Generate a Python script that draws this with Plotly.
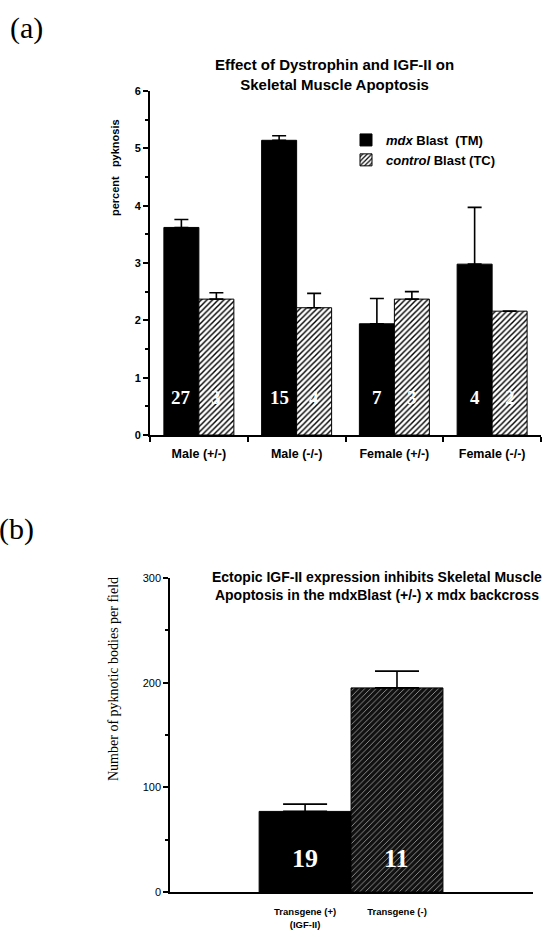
import plotly.graph_objects as go

# ---------------- data ----------------
groups = ["Male (+/-)", "Male (-/-)", "Female (+/-)", "Female (-/-)"]
mdx_vals = [3.62, 5.14, 1.94, 2.98]
mdx_err = [0.14, 0.08, 0.44, 0.99]
ctrl_vals = [2.37, 2.22, 2.37, 2.16]
ctrl_err = [0.11, 0.25, 0.13, None]
mdx_n = ["27", "15", "7", "4"]
ctrl_n = ["3", "4", "3", "2"]

tg_labels = ["Transgene (+)<br>(IGF-II)", "Transgene (-)"]
tg_vals = [77, 195]
tg_err = [7, 16]
tg_n = ["19", "11"]

W, H = 543, 937
SANS = "Liberation Sans, Arial, Helvetica, sans-serif"
SERIF = "Liberation Serif, Times New Roman, serif"
BARGAP = 0.284


def px_x(p):
    return p / W


def px_y(p):
    return 1 - p / H


fig = go.Figure()

# ---------- panel (a) ----------
fig.add_trace(go.Bar(
    x=groups, y=mdx_vals, name="<i>mdx</i> Blast&nbsp;&nbsp;(TM)",
    marker=dict(color="black", line=dict(color="black", width=1)),
    error_y=dict(type="data", symmetric=False, array=mdx_err,
                 arrayminus=[0] * len(mdx_err), color="black",
                 thickness=1.6, width=7),
    xaxis="x", yaxis="y",
))
fig.add_trace(go.Bar(
    x=groups, y=ctrl_vals, name="<i>control</i> Blast (TC)",
    marker=dict(color="white", line=dict(color="black", width=1),
                pattern=dict(shape="/", fgcolor="black", bgcolor="white",
                             size=4, solidity=0.36)),
    error_y=dict(type="data", symmetric=False, array=ctrl_err,
                 arrayminus=[0] * len(ctrl_err), color="black",
                 thickness=1.6, width=7),
    xaxis="x", yaxis="y",
))

# ---------- panel (b) ----------
fig.add_trace(go.Bar(
    x=[tg_labels[0]], y=[tg_vals[0]], width=1, offset=-0.5, showlegend=False,
    marker=dict(color="black", line=dict(color="black", width=1)),
    error_y=dict(type="data", symmetric=False, array=[tg_err[0]],
                 arrayminus=[0], color="black", thickness=1.6, width=22),
    xaxis="x2", yaxis="y2",
))
fig.add_trace(go.Bar(
    x=[tg_labels[1]], y=[tg_vals[1]], width=1, offset=-0.5, showlegend=False,
    marker=dict(color="#111111", line=dict(color="black", width=1),
                pattern=dict(shape="/", fgcolor="#a8a8a8", bgcolor="#111111",
                             size=4, solidity=0.2)),
    error_y=dict(type="data", symmetric=False, array=[tg_err[1]],
                 arrayminus=[0], color="black", thickness=1.6, width=22),
    xaxis="x2", yaxis="y2",
))

annotations = []
half = (1 - BARGAP) / 4
for i in range(len(groups)):
    annotations.append(dict(x=i - half, y=0.65, xref="x", yref="y", text=mdx_n[i],
                            showarrow=False, xanchor="center", yanchor="middle",
                            font=dict(family=SERIF, size=19, color="white", weight="bold")))
    annotations.append(dict(x=i + half, y=0.65, xref="x", yref="y", text=ctrl_n[i],
                            showarrow=False, xanchor="center", yanchor="middle",
                            font=dict(family=SERIF, size=19, color="white", weight="bold")))
for i in range(len(tg_n)):
    annotations.append(dict(x=i, y=32, xref="x2", yref="y2", text=tg_n[i],
                            showarrow=False, xanchor="center", yanchor="middle",
                            font=dict(family=SERIF, size=26, color="white", weight="bold")))


def paper_text(x, y, text, font, angle=0):
    return dict(x=px_x(x), y=px_y(y), xref="paper", yref="paper", text=text,
                showarrow=False, xanchor="center", yanchor="middle",
                textangle=angle, font=font)


annotations += [
    paper_text(26, 28, "(a)", dict(family=SERIF, size=30, color="black")),
    paper_text(16, 529, "(b)", dict(family=SERIF, size=30, color="black")),
    paper_text(334, 74, "Effect of Dystrophin and IGF-II on<br>Skeletal Muscle Apoptosis",
               dict(family=SANS, size=15, color="black", weight="bold")),
    paper_text(115, 167, "percent&nbsp;&nbsp;&nbsp;pyknosis",
               dict(family=SANS, size=11, color="black", weight="bold"), -90),
    paper_text(377, 586,
               "Ectopic IGF-II expression inhibits Skeletal Muscle<br>Apoptosis in the mdxBlast (+/-) x mdx backcross",
               dict(family=SANS, size=14, color="black", weight="bold")),
    paper_text(113, 679, "Number of pyknotic bodies per field",
               dict(family=SERIF, size=14, color="black"), -90),
]

fig.update_layout(
    template="none",
    width=W, height=H, autosize=False,
    margin=dict(l=0, r=0, t=0, b=0, pad=0),
    paper_bgcolor="white", plot_bgcolor="white",
    barmode="group", bargap=BARGAP, bargroupgap=0,
    font=dict(family=SANS, color="black"),
    showlegend=True,
    legend=dict(x=px_x(346), y=px_y(125), xanchor="left", yanchor="top",
                bgcolor="rgba(0,0,0,0)", borderwidth=0,
                font=dict(family=SANS, size=13, weight="bold", color="black"),
                tracegroupgap=0, itemwidth=30),
    xaxis=dict(domain=[px_x(150), px_x(541)], anchor="y", range=[-0.5, 3.5],
               automargin=False,
               showline=True, linecolor="black", linewidth=2, ticks="outside",
               tickson="boundaries", ticklen=5, tickcolor="black", tickwidth=1.5,
               tickfont=dict(family=SANS, size=12.5, weight="bold", color="black"),
               showgrid=False, zeroline=False, ticklabelstandoff=6),
    yaxis=dict(domain=[px_y(435), px_y(91)], anchor="x", range=[0, 6],
               automargin=False,
               showline=True, linecolor="black", linewidth=2, ticks="outside",
               tickvals=[0, 1, 2, 3, 4, 5, 6], ticklen=5, tickcolor="black", tickwidth=1.5,
               tickfont=dict(family=SANS, size=11, weight="bold", color="black"),
               showgrid=False, zeroline=False,
               minor=dict(dtick=0.5, ticks="outside", ticklen=3, tickcolor="black",
                          showgrid=False)),
    xaxis2=dict(domain=[px_x(170), px_x(533)], anchor="y2", range=[-1.47, 2.48],
                automargin=False,
                showline=True, linecolor="black", linewidth=1.5, ticks="",
                tickfont=dict(family=SANS, size=9.5, weight="bold", color="black"),
                showgrid=False, zeroline=False, ticklabelstandoff=10),
    yaxis2=dict(domain=[px_y(892), px_y(578)], anchor="x2", range=[0, 300],
                automargin=False,
                showline=True, linecolor="black", linewidth=1.5, ticks="outside",
                tickvals=[0, 100, 200, 300], ticklen=5, tickcolor="black", tickwidth=1.5,
                tickfont=dict(family=SANS, size=11, color="black"),
                showgrid=False, zeroline=False,
                minor=dict(dtick=50, ticks="outside", ticklen=3, tickcolor="black",
                           showgrid=False)),
    annotations=annotations,
)

fig.write_html("out.html", config={"displayModeBar": False})

# remove the browser's default body margin so the figure sits at the page origin
with open("out.html", "r", encoding="utf-8") as f:
    html = f.read()
html = html.replace("<body>", '<body style="margin:0;padding:0;overflow:hidden">', 1)
with open("out.html", "w", encoding="utf-8") as f:
    f.write(html)
